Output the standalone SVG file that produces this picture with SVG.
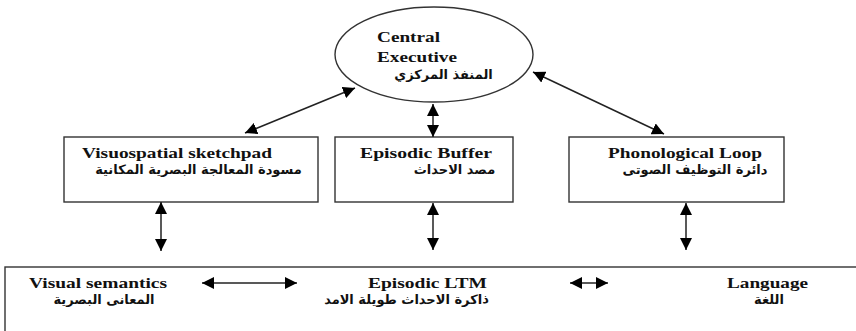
<svg xmlns="http://www.w3.org/2000/svg" width="856" height="331" viewBox="0 0 856 331">
<defs>
<marker id="ah" viewBox="0 0 10 10" refX="10" refY="5" markerWidth="12" markerHeight="12" markerUnits="userSpaceOnUse" orient="auto-start-reverse">
<path d="M0,0 L10,5 L0,10 z" fill="#000"/>
</marker>
<style>
.box{fill:#fff;stroke:#333;stroke-width:1.4}
.en{font-family:"Liberation Serif","Times New Roman",serif;font-weight:bold;font-size:15.5px;fill:#111}
.ar{font-family:"DejaVu Sans","Noto Sans",sans-serif;font-weight:bold;font-size:13px;fill:#111}
.c{stroke:#222;stroke-width:1.5;fill:none;marker-start:url(#ah);marker-end:url(#ah)}
</style>
</defs>
<rect width="856" height="331" fill="#fff"/>
<g id="ltm">
<rect class="box" x="5" y="267" width="870" height="100"/>
<text class="en" x="98" y="288" text-anchor="middle" textLength="138" lengthAdjust="spacingAndGlyphs">Visual semantics</text>
<text class="ar" x="104" y="304" text-anchor="middle">المعانى البصرية</text>
<text class="en" x="427.5" y="288" text-anchor="middle" textLength="119" lengthAdjust="spacingAndGlyphs">Episodic LTM</text>
<text class="ar" x="406.5" y="304" text-anchor="middle">ذاكرة الاحداث طويلة الامد</text>
<text class="en" x="767.5" y="288" text-anchor="middle" textLength="81" lengthAdjust="spacingAndGlyphs">Language</text>
<text class="ar" x="769" y="304" text-anchor="middle">اللغة</text>
</g>
<g id="central-executive">
<ellipse class="box" cx="434" cy="54.5" rx="99" ry="47.5"/>
<text class="en" x="377" y="42" textLength="63" lengthAdjust="spacingAndGlyphs">Central</text>
<text class="en" x="377" y="62" textLength="80" lengthAdjust="spacingAndGlyphs">Executive</text>
<text class="ar" x="443.5" y="79" text-anchor="middle">المنفذ المركزي</text>
</g>
<g id="visuospatial">
<rect class="box" x="64" y="137" width="254" height="65"/>
<text class="en" x="177" y="158" text-anchor="middle" textLength="190" lengthAdjust="spacingAndGlyphs">Visuospatial sketchpad</text>
<text class="ar" x="198.5" y="174" text-anchor="middle">مسودة المعالجة البصرية المكانية</text>
</g>
<g id="episodic-buffer">
<rect class="box" x="335" y="137" width="178" height="65"/>
<text class="en" x="426" y="158" text-anchor="middle" textLength="132" lengthAdjust="spacingAndGlyphs">Episodic Buffer</text>
<text class="ar" x="454.5" y="174" text-anchor="middle">مصد الاحداث</text>
</g>
<g id="phonological">
<rect class="box" x="569" y="137" width="215" height="65"/>
<text class="en" x="685" y="158" text-anchor="middle" textLength="154" lengthAdjust="spacingAndGlyphs">Phonological Loop</text>
<text class="ar" x="695" y="174" text-anchor="middle">دائرة التوظيف الصوتى</text>
</g>
<g id="connectors">
<line class="c" x1="245" y1="133" x2="355" y2="88"/>
<line class="c" x1="533" y1="72" x2="664" y2="134"/>
<line class="c" x1="433" y1="104" x2="433" y2="137"/>
<line class="c" x1="161" y1="202" x2="161" y2="251"/>
<line class="c" x1="433" y1="203" x2="433" y2="250"/>
<line class="c" x1="686" y1="203" x2="686" y2="250"/>
<line class="c" x1="202" y1="283" x2="297" y2="283"/>
<line class="c" x1="570" y1="283" x2="608" y2="283"/>
</g>
</svg>
